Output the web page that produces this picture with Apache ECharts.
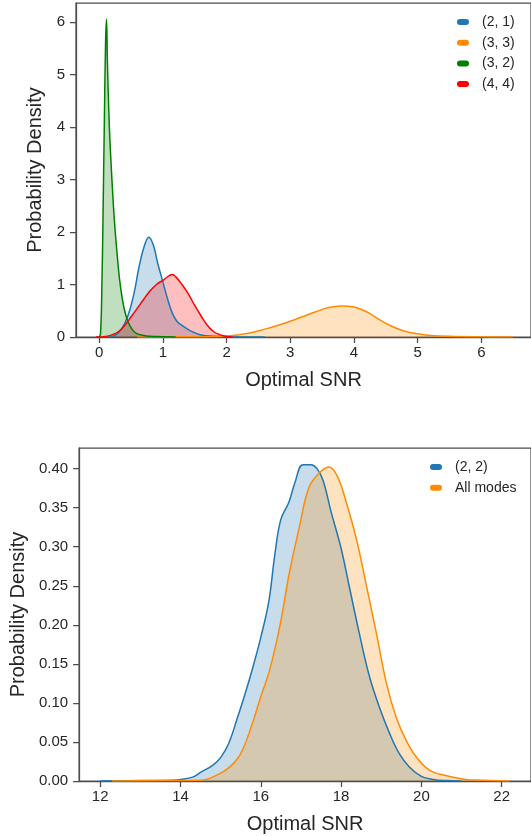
<!DOCTYPE html>
<html>
<head>
<meta charset="utf-8">
<script src="https://cdn.jsdelivr.net/npm/echarts@6/dist/echarts.min.js"></script>
<style>
  html, body { margin: 0; padding: 0; background: #fff; }
  #chart { width: 531px; height: 836px; }
</style>
</head>
<body>
<div id="chart"></div>
<script>
// top panel: individual modes
const modeNames = ['(2, 1)', '(3, 3)', '(3, 2)', '(4, 4)']
const modeColors = ['#1f77b4', '#ff8c00', '#008000', '#ff0000']

const snr21 = [0.15, 0.25, 0.35, 0.45, 0.55, 0.62, 0.7, 0.78, 0.85, 0.92, 1.0, 1.08, 1.15, 1.22, 1.3, 1.4, 1.5, 1.6, 1.8, 2.0, 2.6]
const dens21 = [0, 0.03, 0.15, 0.4, 0.85, 1.3, 1.7, 1.9, 1.75, 1.4, 1.05, 0.7, 0.45, 0.3, 0.22, 0.14, 0.08, 0.04, 0.015, 0.005, 0]

const snr33 = [0.6, 1.0, 1.5, 1.8, 2.0, 2.2, 2.4, 2.6, 2.8, 3.0, 3.2, 3.4, 3.6, 3.8, 4.0, 4.2, 4.4, 4.6, 4.8, 5.0, 5.2, 5.5, 6.0, 6.5]
const dens33 = [0, 0.002, 0.005, 0.01, 0.02, 0.045, 0.085, 0.15, 0.22, 0.3, 0.39, 0.48, 0.56, 0.59, 0.57, 0.48, 0.33, 0.2, 0.11, 0.06, 0.03, 0.012, 0.003, 0]

const snr32 = [0, 0.02, 0.04, 0.06, 0.08, 0.1, 0.115, 0.13, 0.16, 0.2, 0.24, 0.28, 0.32, 0.36, 0.4, 0.45, 0.5, 0.55, 0.6, 0.7, 0.8, 0.9, 1.0, 1.2]
const dens32 = [0, 0.05, 0.8, 2.3, 4.0, 5.6, 6.05, 5.2, 4.0, 3.0, 2.2, 1.6, 1.1, 0.75, 0.5, 0.3, 0.18, 0.1, 0.06, 0.03, 0.015, 0.008, 0.004, 0]

const snr44 = [-0.05, 0.1, 0.2, 0.3, 0.4, 0.5, 0.6, 0.7, 0.8, 0.9, 1.0, 1.1, 1.15, 1.2, 1.3, 1.4, 1.5, 1.6, 1.7, 1.8, 1.9, 2.0, 2.1]
const dens44 = [0, 0.01, 0.04, 0.1, 0.22, 0.38, 0.55, 0.72, 0.88, 1.0, 1.08, 1.17, 1.19, 1.15, 1.0, 0.82, 0.6, 0.4, 0.22, 0.1, 0.04, 0.01, 0]

const topXTicks = [0, 1, 2, 3, 4, 5, 6]
const topYTicks = [0, 1, 2, 3, 4, 5, 6]

// bottom panel: (2,2) vs all modes
const bottomNames = ['(2, 2)', 'All modes']
const bottomColors = ['#1f77b4', '#ff8c00']

const snr22 = [12.0, 13.0, 13.8, 14.0, 14.3, 14.5, 14.8, 15.0, 15.2, 15.4, 15.6, 15.8, 16.0, 16.2, 16.35, 16.5, 16.7, 16.85, 17.05, 17.25, 17.4, 17.55, 17.75, 18.0, 18.2, 18.45, 18.7, 18.95, 19.2, 19.45, 19.7, 20.0, 20.3, 20.6, 21.0]
const dens22 = [0, 0.0005, 0.001, 0.002, 0.005, 0.011, 0.02, 0.03, 0.048, 0.078, 0.11, 0.145, 0.184, 0.23, 0.29, 0.335, 0.357, 0.382, 0.405, 0.405, 0.4, 0.385, 0.345, 0.298, 0.25, 0.19, 0.135, 0.095, 0.062, 0.035, 0.018, 0.006, 0.002, 0.0005, 0]

const snrAll = [12.3, 13.5, 14.5, 15.0, 15.27, 15.5, 15.76, 16.0, 16.22, 16.47, 16.71, 16.96, 17.2, 17.45, 17.69, 17.9, 18.14, 18.39, 18.64, 18.88, 19.13, 19.37, 19.62, 19.87, 20.2, 20.6, 21.1, 21.5, 22.2]
const densAll = [0, 0.0005, 0.001, 0.01, 0.02, 0.035, 0.069, 0.108, 0.142, 0.197, 0.266, 0.325, 0.376, 0.394, 0.402, 0.391, 0.355, 0.308, 0.248, 0.189, 0.125, 0.082, 0.052, 0.031, 0.014, 0.007, 0.002, 0.001, 0]

const bottomXTicks = [12, 14, 16, 18, 20, 22]
const bottomYTicks = [0, 0.05, 0.1, 0.15, 0.2, 0.25, 0.3, 0.35, 0.4]

const pairs = (xs, ys) => xs.map((x, i) => [x, ys[i]])

const font = '"Liberation Sans", Arial, sans-serif'
const spine = '#4d4d4d'
const textColor = '#262626'
// pill shaped legend marker
const pill = 'path://M3,0 L9,0 A3,3 0 0 1 9,6 L3,6 A3,3 0 0 1 3,0 Z'

function xAxisOf(grid, min, max, ticks, gap) {
  return {
    type: 'value', gridIndex: grid, min: min, max: max,
    name: 'Optimal SNR', nameLocation: 'middle', nameGap: gap,
    nameTextStyle: { fontFamily: font, fontSize: 20, color: textColor },
    splitLine: { show: false },
    axisLine: { onZero: false, lineStyle: { color: spine, width: 1.25 } },
    axisTick: { customValues: ticks, length: 6, lineStyle: { color: spine, width: 1.25 } },
    axisLabel: { customValues: ticks, margin: 8, fontFamily: font, fontSize: 15, color: textColor }
  }
}

function yAxisOf(grid, max, ticks, gap, fmt) {
  return {
    type: 'value', gridIndex: grid, min: 0, max: max,
    name: 'Probability Density', nameLocation: 'middle', nameGap: gap,
    nameTextStyle: { fontFamily: font, fontSize: 20, color: textColor },
    splitLine: { show: false },
    axisLine: { show: true, onZero: false, lineStyle: { color: spine, width: 1.25 } },
    axisTick: { show: true, customValues: ticks, length: 6, lineStyle: { color: spine, width: 1.25 } },
    axisLabel: { customValues: ticks, margin: 11, fontFamily: font, fontSize: 15, color: textColor, formatter: fmt }
  }
}

function kde(name, data, color, idx) {
  return {
    name: name, type: 'line', xAxisIndex: idx, yAxisIndex: idx,
    data: data, smooth: 0.4, showSymbol: false,
    lineStyle: { color: color, width: 1.5 },
    itemStyle: { color: color },
    areaStyle: { color: color, opacity: 0.25 },
    animation: false
  }
}

const chart = echarts.init(document.getElementById('chart'))
chart.setOption({
  backgroundColor: '#fff',
  animation: false,
  grid: [
    { left: 76, top: 3, right: -2, height: 334, show: true, borderColor: spine, borderWidth: 1.25 },
    { left: 76, top: 448, right: -2, height: 333, show: true, borderColor: spine, borderWidth: 1.25 }
  ],
  legend: [
    {
      data: modeNames.map(n => ({ name: n, icon: pill })),
      orient: 'vertical', left: 457, top: 14, padding: 0,
      itemWidth: 12, itemHeight: 6, itemGap: 4.7,
      textStyle: { fontFamily: font, fontSize: 14, color: textColor, lineHeight: 16, padding: [0, 0, 0, 8] }
    },
    {
      data: bottomNames.map(n => ({ name: n, icon: pill })),
      orient: 'vertical', left: 430, top: 459, padding: 0,
      itemWidth: 12, itemHeight: 6, itemGap: 4.7,
      textStyle: { fontFamily: font, fontSize: 14, color: textColor, lineHeight: 16, padding: [0, 0, 0, 8] }
    }
  ],
  xAxis: [
    xAxisOf(0, -0.364, 6.78, topXTicks, 33),
    xAxisOf(1, 11.475, 22.73, bottomXTicks, 33)
  ],
  yAxis: [
    yAxisOf(0, 6.36, topYTicks, 28, v => String(v)),
    yAxisOf(1, 0.4264, bottomYTicks, 50, v => v.toFixed(2))
  ],
  series: [
    kde(modeNames[0], pairs(snr21, dens21), modeColors[0], 0),
    kde(modeNames[1], pairs(snr33, dens33), modeColors[1], 0),
    kde(modeNames[2], pairs(snr32, dens32), modeColors[2], 0),
    kde(modeNames[3], pairs(snr44, dens44), modeColors[3], 0),
    kde(bottomNames[0], pairs(snr22, dens22), bottomColors[0], 1),
    kde(bottomNames[1], pairs(snrAll, densAll), bottomColors[1], 1)
  ]
})
</script>
</body>
</html>
